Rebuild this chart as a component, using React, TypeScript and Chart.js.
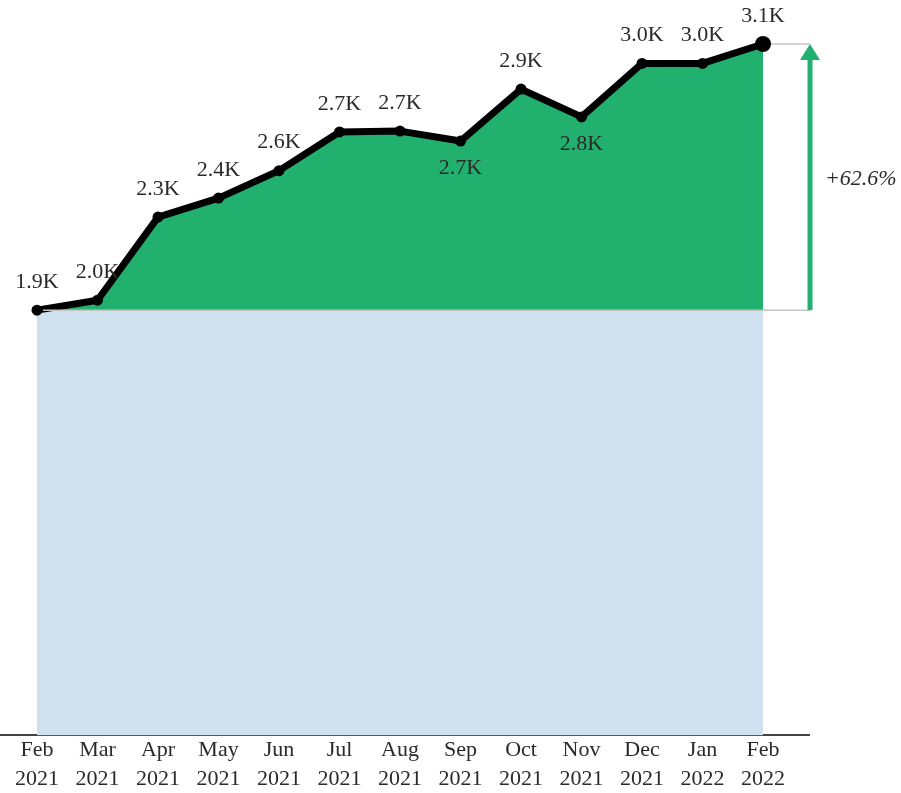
import React, { useEffect, useRef } from "react";
import { Chart, registerables } from "chart.js";

Chart.register(...registerables);

const months = ["Feb", "Mar", "Apr", "May", "Jun", "Jul", "Aug", "Sep", "Oct", "Nov", "Dec", "Jan", "Feb"];
const years = ["2021", "2021", "2021", "2021", "2021", "2021", "2021", "2021", "2021", "2021", "2021", "2022", "2022"];
const values = [1924, 1969, 2345, 2431, 2555, 2730, 2734, 2689, 2924, 2798, 3040, 3040, 3128];

const GREEN = "#22B06E";
const BLUE = "#CFE0EE";
const TEXT = "#2a2a2a";
const FONT = "'Liberation Serif', 'Times New Roman', serif";

const fmtK = (v: number) => (v / 1000).toFixed(1) + "K";

const overlayPlugin = {
  id: "overlay",
  afterDatasetsDraw(chart: any) {
    const ctx = chart.ctx;
    const xs = chart.scales.x;
    const ys = chart.scales.y;
    const n = values.length;
    const first = values[0];
    const last = values[n - 1];
    const yBase = ys.getPixelForValue(first);
    const yTop = ys.getPixelForValue(last);
    const arrowX = chart.chartArea.right + 1;
    ctx.save();
    // reference lines
    ctx.strokeStyle = "#C4C4C4";
    ctx.lineWidth = 1.5;
    ctx.beginPath();
    ctx.moveTo(xs.getPixelForValue(0) + 6, yBase);
    ctx.lineTo(arrowX, yBase);
    ctx.moveTo(xs.getPixelForValue(n - 1) + 8, yTop);
    ctx.lineTo(arrowX, yTop);
    ctx.stroke();
    // arrow
    ctx.fillStyle = GREEN;
    const headH = 16;
    ctx.fillRect(arrowX - 2.5, yTop + headH - 1, 5, yBase - yTop - headH + 1);
    ctx.beginPath();
    ctx.moveTo(arrowX, yTop);
    ctx.lineTo(arrowX - 10, yTop + headH);
    ctx.lineTo(arrowX + 10, yTop + headH);
    ctx.closePath();
    ctx.fill();
    // percent label
    const pct = ((last - first) / first) * 100;
    ctx.fillStyle = TEXT;
    ctx.font = "italic 22px " + FONT;
    ctx.textAlign = "left";
    ctx.textBaseline = "middle";
    ctx.fillText((pct >= 0 ? "+" : "") + pct.toFixed(1) + "%", arrowX + 15, (yBase + yTop) / 2 + 2);
    // data labels
    ctx.font = "22px " + FONT;
    ctx.textAlign = "center";
    for (let i = 0; i < n; i++) {
      const v = values[i];
      const px = xs.getPixelForValue(i);
      const py = ys.getPixelForValue(v);
      const below = i > 0 && i < n - 1 && v < values[i - 1] && v < values[i + 1];
      ctx.fillText(fmtK(v), px, below ? py + 27 : py - 28);
    }
    ctx.restore();
  },
};

export default function App() {
  const ref = useRef<HTMLCanvasElement | null>(null);
  useEffect(() => {
    if (!ref.current) return;
    Chart.defaults.font.family = FONT;
    const n = values.length;
    const chart = new Chart(ref.current, {
      type: "line",
      data: {
        datasets: [
          {
            data: values.map((v, i) => ({ x: i, y: v })),
            borderColor: "#000000",
            borderWidth: 7,
            borderJoinStyle: "round",
            pointRadius: values.map((_, i) => (i === n - 1 ? 8 : 5.5)),
            pointBackgroundColor: "#000000",
            pointBorderWidth: 0,
            backgroundColor: GREEN,
            fill: { value: values[0] },
            tension: 0,
            clip: false as any,
          },
          {
            data: [
              { x: 0, y: values[0] },
              { x: n - 1, y: values[0] },
            ],
            borderWidth: 0,
            pointRadius: 0,
            backgroundColor: BLUE,
            fill: "origin",
          },
        ],
      },
      options: {
        animation: false,
        responsive: true,
        maintainAspectRatio: false,
        layout: { autoPadding: false, padding: { left: 0, right: 92, top: 0, bottom: 0 } },
        plugins: { legend: { display: false }, tooltip: { enabled: false } },
        scales: {
          x: {
            type: "linear",
            min: -0.6116,
            max: 12.76,
            grid: { display: false, drawTicks: false },
            border: { display: true, color: "#444444", width: 2 },
            afterBuildTicks: (scale: any) => {
              scale.ticks = months.map((_, i) => ({ value: i }));
            },
            afterFit: (scale: any) => {
              scale.paddingLeft = 0;
              scale.paddingRight = 0;
            },
            ticks: {
              autoSkip: false,
              maxRotation: 0,
              padding: 0,
              color: TEXT,
              font: { size: 22, family: FONT, lineHeight: 1.33 },
              callback: (v: any) => [months[v], years[v]],
            },
          },
          y: {
            display: false,
            min: 0,
            max: 3327,
          },
        },
      },
      plugins: [overlayPlugin],
    });
    return () => chart.destroy();
  }, []);
  return (
    <div style={{ position: "absolute", left: 0, top: 0, width: 901, height: 794 }}>
      <canvas ref={ref} />
    </div>
  );
}
